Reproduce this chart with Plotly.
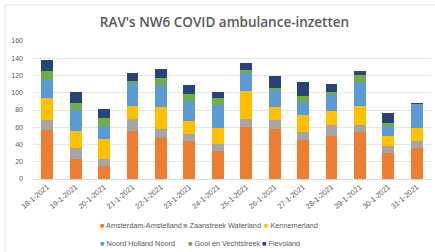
import plotly.graph_objects as go

dates = ["18-1-2021", "19-1-2021", "20-1-2021", "21-1-2021", "22-1-2021", "23-1-2021", "24-1-2021",
         "25-1-2021", "26-1-2021", "27-1-2021", "28-1-2021", "29-1-2021", "30-1-2021", "31-1-2021"]

amsterdam = [57, 23, 15, 56, 48, 44, 33, 60, 58, 45, 50, 54, 30, 36]
zaanstreek = [11, 13, 8, 13, 10, 8, 8, 9, 10, 9, 13, 9, 8, 8]
kennemerland = [26, 20, 23, 16, 26, 15, 18, 33, 16, 20, 16, 22, 12, 15]
noord_holland = [21, 24, 16, 27, 25, 24, 27, 21, 19, 15, 18, 28, 11, 28]
gooi = [10, 8, 9, 2, 8, 8, 8, 3, 3, 7, 4, 8, 4, 0]
flevoland = [13, 13, 10, 9, 11, 10, 7, 9, 14, 16, 9, 4, 11, 1]

series_names = ["Amsterdam-Amstelland", "Zaanstreek Waterland", "Kennemerland",
                "Noord Holland Noord", "Gooi en Vechtstreek", "Flevoland"]
series_values = [amsterdam, zaanstreek, kennemerland, noord_holland, gooi, flevoland]
series_colors = ["#ED7D31", "#A5A5A5", "#FFC000", "#5B9BD5", "#70AD47", "#264478"]

y_ticks = [0, 20, 40, 60, 80, 100, 120, 140, 160]

FONT = "Liberation Sans"
GREY = "#595959"

fig = go.Figure()
for name, vals, col in zip(series_names, series_values, series_colors):
    fig.add_trace(go.Bar(x=dates, y=vals, name=name, marker=dict(color=col, line=dict(width=0)),
                         showlegend=False))

W, H = 435, 252
ml, mr, mt, mb = 33, 4, 41, 73
pw = W - ml - mr
ph = H - mt - mb

def px_x(x):
    return (x - ml) / pw

def px_y(y):
    return (H - mb - y) / ph

# legend built from series names / colours (two rows of three)
legend_pos = [(98, 225.5), (180.5, 225.5), (261.5, 225.5),
              (98, 243), (185.5, 243), (260, 243)]
annotations = []
for (lx, ly), name, col in zip(legend_pos, series_names, series_colors):
    annotations.append(dict(
        x=px_x(lx), y=px_y(ly), xref="paper", yref="paper", xanchor="left", yanchor="middle",
        showarrow=False,
        text=f'<span style="color:{col}">■</span> {name}',
        font=dict(family=FONT, size=7.3, color=GREY)))

fig.update_layout(
    width=W, height=H,
    margin=dict(l=ml, r=mr, t=mt, b=mb, autoexpand=False),
    barmode="stack",
    bargap=0.58,
    paper_bgcolor="white",
    plot_bgcolor="white",
    font=dict(family=FONT, color=GREY),
    title=dict(text="RAV's NW6 COVID ambulance-inzetten", x=px_x(224.5), xref="paper", xanchor="center",
               y=1 - 22 / H, yanchor="middle",
               font=dict(family="Open Sans", size=13.5, color=GREY, weight=600)),
    xaxis=dict(tickangle=-40, tickfont=dict(size=7.3, color=GREY, family=FONT), automargin=False,
               showgrid=False, showline=True, linecolor="#D9D9D9", linewidth=1, ticks=""),
    yaxis=dict(range=[0, 160], tickvals=y_ticks, tickfont=dict(size=7, color=GREY, family=FONT),
               automargin=False,
               showgrid=True, gridcolor="#E6E6E6", gridwidth=1, zeroline=False,
               showline=False, ticks="", ticklabelstandoff=9),
    annotations=annotations,
    shapes=[dict(type="rect", xref="paper", yref="paper",
                 x0=px_x(5), x1=px_x(W + 5), y0=px_y(H + 5), y1=px_y(5),
                 line=dict(color="#E6E6E6", width=1), fillcolor="rgba(0,0,0,0)", layer="below")],
)

fig.write_html("out.html", config={"displayModeBar": False},
               post_script="document.body.style.margin='0';")
